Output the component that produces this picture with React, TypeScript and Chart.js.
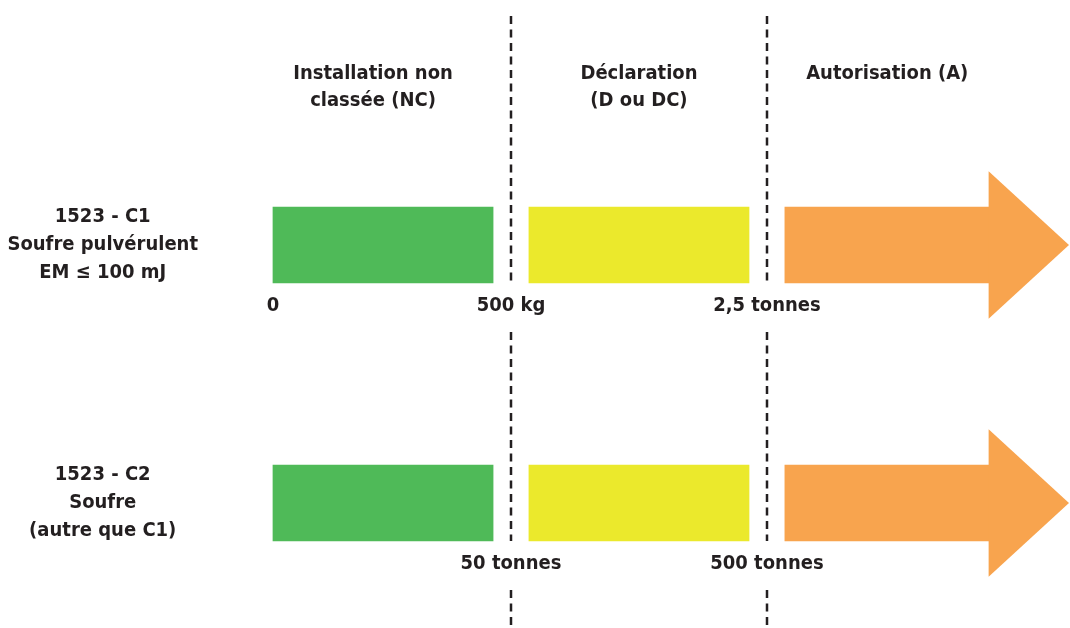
import { useEffect, useRef } from 'react';
import { Chart, registerables } from 'chart.js';

Chart.register(...registerables);

// Row labels (ICPE rubrique)
const rowLabels = [
  ['1523 - C1', 'Soufre pulvérulent', 'EM ≤ 100 mJ'],
  ['1523 - C2', 'Soufre', '(autre que C1)'],
];

// Regime headers
const zoneTitles = [
  ['Installation non', 'classée (NC)'],
  ['Déclaration', '(D ou DC)'],
  ['Autorisation (A)'],
];

// Schematic axis: regime boundaries sit at 1 and 2
const thresholdPos = [1, 2];

// Floating bars per regime, one entry per row
const ncBars: [number, number][] = [[0.07, 0.93], [0.07, 0.93]];
const dBars: [number, number][] = [[1.07, 1.93], [1.07, 1.93]];
const aBars: [number, number][] = [[2.07, 2.87], [2.07, 2.87]];
const aTips = [3.18, 3.18];

// Threshold labels under each row
const tickPos = [0.07, 1, 2];
const row1Ticks = ['0', '500 kg', '2,5 tonnes'];
const row2Ticks = ['', '50 tonnes', '500 tonnes'];

const FONT = "'Liberation Sans Narrow', 'DejaVu Sans Condensed', sans-serif";
const INK = '#231f20';

const arrowHeads = {
  id: 'arrowHeads',
  afterDatasetsDraw(chart: Chart) {
    const { ctx } = chart;
    const x = chart.scales.x;
    const meta = chart.getDatasetMeta(2);
    ctx.save();
    ctx.fillStyle = '#f8a44e';
    meta.data.forEach((el: any, i: number) => {
      const half = el.height * 0.97;
      const tip = x.getPixelForValue(aTips[i]);
      ctx.beginPath();
      ctx.moveTo(el.x - 1, el.y - half);
      ctx.lineTo(tip, el.y);
      ctx.lineTo(el.x - 1, el.y + half);
      ctx.closePath();
      ctx.fill();
    });
    ctx.restore();
  },
};

const annotations = {
  id: 'annotations',
  afterDraw(chart: Chart) {
    const { ctx } = chart;
    const x = chart.scales.x;
    const bars = chart.getDatasetMeta(0).data as any[];
    const bottoms = bars.map((b) => b.y + b.height / 2);

    // dashed boundaries, interrupted under each row for the labels
    ctx.save();
    ctx.strokeStyle = INK;
    ctx.lineWidth = 2.5;
    ctx.setLineDash([8, 5.5]);
    const segs = [
      [16, bottoms[0]],
      [bottoms[0] + 49, bottoms[1]],
      [bottoms[1] + 49, chart.height],
    ];
    thresholdPos.forEach((t) => {
      const px = Math.round(x.getPixelForValue(t));
      segs.forEach(([a, b]) => {
        ctx.beginPath();
        ctx.moveTo(px, a);
        ctx.lineTo(px, b);
        ctx.stroke();
      });
    });
    ctx.restore();

    ctx.save();
    ctx.fillStyle = INK;
    ctx.font = `bold 20px ${FONT}`;
    ctx.textAlign = 'center';
    ctx.textBaseline = 'middle';

    // regime headers, centred over each bar (first one nudged left as in the source)
    [ncBars, dBars, aBars].forEach((set, i) => {
      const cx = x.getPixelForValue((set[0][0] + set[0][1]) / 2) - (i === 0 ? 10 : 0);
      zoneTitles[i].forEach((line, j) => ctx.fillText(line, cx, 74 + j * 27));
    });

    // threshold values
    [row1Ticks, row2Ticks].forEach((labels, r) => {
      labels.forEach((t, k) => {
        if (t) ctx.fillText(t, x.getPixelForValue(tickPos[k]), bottoms[r] + 23);
      });
    });
    ctx.restore();
  },
};

export default function App() {
  const chartRef = useRef<HTMLCanvasElement>(null);

  useEffect(() => {
    document.body.style.margin = '0';
    if (!chartRef.current) return;

    const chart = new Chart(chartRef.current, {
      type: 'bar',
      data: {
        labels: rowLabels as any,
        datasets: [
          { label: 'NC', data: ncBars as any, backgroundColor: '#4fba58' },
          { label: 'D', data: dBars as any, backgroundColor: '#ebe92c' },
          { label: 'A', data: aBars as any, backgroundColor: '#f8a44e' },
        ],
      },
      options: {
        indexAxis: 'y',
        responsive: false,
        animation: false,
        events: [],
        layout: { padding: { top: 245, bottom: 125, left: 0, right: 0 } },
        datasets: { bar: { barThickness: 76, grouped: false, clip: false as any } },
        plugins: { legend: { display: false }, tooltip: { enabled: false } },
        scales: {
          x: { type: 'linear', min: -0.176, max: 3.184, display: false },
          y: {
            type: 'category',
            offset: false,
            grid: { display: false, drawTicks: false },
            border: { display: false },
            ticks: {
              color: INK,
              crossAlign: 'center',
              padding: 12,
              font: { family: FONT, size: 20, weight: 'bold', lineHeight: 1.4 },
            },
            afterFit: (scale: any) => {
              scale.width = 210;
            },
          },
        },
      },
      plugins: [arrowHeads, annotations],
    });

    return () => chart.destroy();
  }, []);

  return (
    <div style={{ width: 1070, height: 628, background: '#fff' }}>
      <canvas ref={chartRef} width={1070} height={628} />
    </div>
  );
}
